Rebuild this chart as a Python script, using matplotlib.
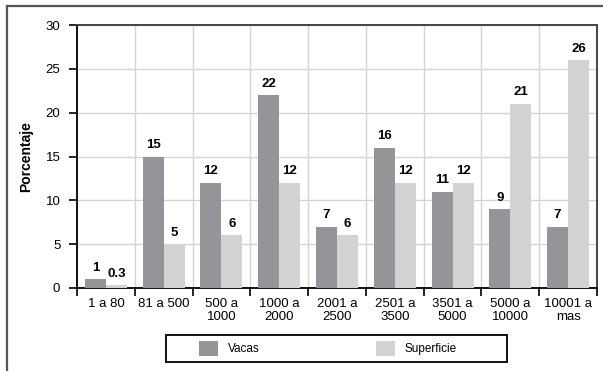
import matplotlib.pyplot as plt
from matplotlib.lines import Line2D
from matplotlib.patches import Patch, Rectangle
import numpy as np

plt.rcParams['font.family'] = ['Liberation Sans Narrow', 'Liberation Sans', 'DejaVu Sans']

# rangos de tamano del hato
categorias = ["1 a 80", "81 a 500", "500 a\n1000", "1000 a\n2000", "2001 a\n2500",
              "2501 a\n3500", "3501 a\n5000", "5000 a\n10000", "10001 a\nmas"]
vacas = [1, 15, 12, 22, 7, 16, 11, 9, 7]
superficie = [0.3, 5, 6, 12, 6, 12, 12, 21, 26]

color_vacas = "#939598"
color_sup = "#d1d3d4"

fig = plt.figure(figsize=(6.03, 3.71), dpi=100)
ax = fig.add_axes([77/603, 1 - 288/371, (597 - 77)/603, (288 - 25)/371])

x = np.arange(len(categorias))
w = 0.364
ax.bar(x - w/2, vacas, w, color=color_vacas, zorder=3)
ax.bar(x + w/2, superficie, w, color=color_sup, zorder=3)

# etiquetas de valor sobre cada barra
for xi, v in zip(x - w/2, vacas):
    ax.annotate(f"{v:g}", (xi, v), xytext=(0, 4), textcoords="offset points",
                ha="center", va="bottom", fontsize=9.5, fontweight="bold")
for xi, v in zip(x + w/2, superficie):
    ax.annotate(f"{v:g}", (xi, v), xytext=(0, 4), textcoords="offset points",
                ha="center", va="bottom", fontsize=9.5, fontweight="bold")

ax.set_xlim(-0.5, len(categorias) - 0.5)
ax.set_ylim(0, 30)
ax.set_yticks(range(0, 31, 5))
ax.set_xticks(x)
ax.set_xticklabels(categorias, fontsize=9.5, linespacing=1.1)
ax.set_xticks(np.arange(-0.5, len(categorias) + 0.5, 1), minor=True)
ax.tick_params(axis="x", which="major", length=0, pad=7)
ax.tick_params(axis="x", which="minor", length=6, width=1.2, direction="out")
ax.tick_params(axis="y", length=6, width=1.2, labelsize=9.5, pad=6)

ax.grid(axis="y", color="#d4d4d4", linewidth=1, zorder=0)
ax.grid(axis="x", which="minor", color="#d4d4d4", linewidth=1, zorder=0)

for s in ["left", "bottom"]:
    ax.spines[s].set_linewidth(1.4)
    ax.spines[s].set_color("#111111")
for s in ["top", "right"]:
    ax.spines[s].set_linewidth(1.4)
    ax.spines[s].set_color("#444444")

ax.set_ylabel("Porcentaje", fontsize=10, fontweight="bold", labelpad=9)

# leyenda sin marco propio, el recuadro se dibuja aparte
handles = [Patch(facecolor=color_vacas, label="Vacas"),
           Patch(facecolor=color_sup, label="Superficie")]
fig.legend(handles=handles, loc="center", ncol=2,
           bbox_to_anchor=(328/603, 1 - 348.5/371),
           frameon=False, fontsize=8.5, handlelength=1.6, handleheight=1.6,
           handletextpad=0.8, columnspacing=9.9, borderpad=0)
fig.add_artist(Rectangle((166/603, 1 - 362/371), (507 - 166)/603, (362 - 335)/371,
                         transform=fig.transFigure, facecolor="none",
                         edgecolor="#111111", linewidth=1.4))

# marco exterior
fig.add_artist(Line2D([7/603, 7/603], [0, 1 - 6/371], transform=fig.transFigure,
                      color="#555555", linewidth=1.6))
fig.add_artist(Line2D([7/603, 1], [1 - 6/371, 1 - 6/371], transform=fig.transFigure,
                      color="#555555", linewidth=1.6))

fig.savefig("out.png", dpi=100)
